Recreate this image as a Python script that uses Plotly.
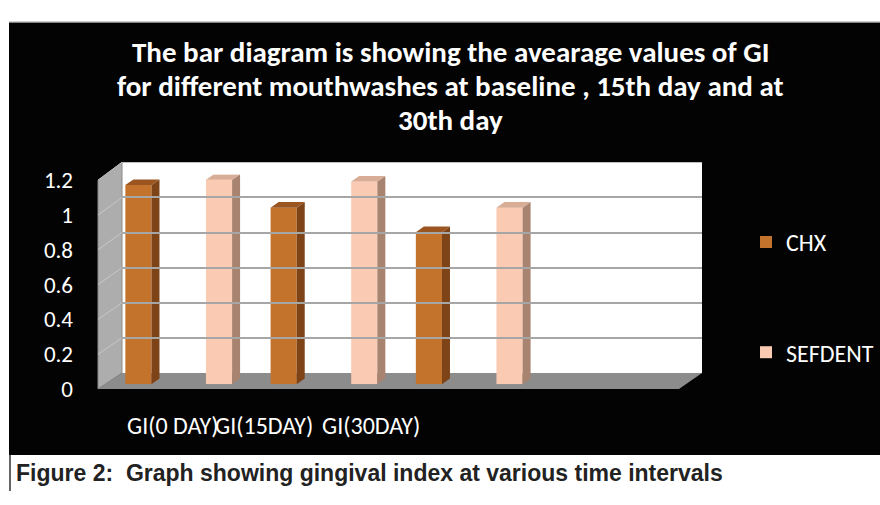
import plotly.graph_objects as go

# ---------------- data ----------------
categories = ["GI(0 DAY)", "GI(15DAY)", "GI(30DAY)"]
chx_values = [1.14, 1.01, 0.87]
sefdent_values = [1.17, 1.16, 1.01]
series_names = ["CHX", "SEFDENT"]
y_ticks = [0, 0.2, 0.4, 0.6, 0.8, 1, 1.2]
y_tick_labels = ["0", "0.2", "0.4", "0.6", "0.8", "1", "1.2"]
title_lines = [
    "The bar diagram is showing the avearage values of GI",
    "for different mouthwashes at baseline , 15th day and at",
    "30th day",
]
caption = "Figure 2:  Graph showing gingival index at various time intervals"

# ---------------- geometry / style ----------------
W, H = 880, 505
def X(px): return px / W
def Y(py): return 1 - py / H

FONT = "Carlito, Lato, sans-serif"
col_front = ["#C3732C", "#FACBB2"]
col_side = ["#7E4418", "#A8836F"]
col_top = ["#9A5520", "#D8AC95"]

back = dict(x0=122, x1=702, y0=380, y1=157)     # back wall: value 0 at y0, 1.2 at y1
front = dict(x0=98, x1=679, y0=397, y1=176)     # front edge
barp = dict(x0=105, x1=686, y0=392, y1=170)     # plane in which bars stand
XMIN, XMAX = -0.5, 3.5
YMAX = 1.2
slot_px = (barp["x1"] - barp["x0"]) / (XMAX - XMIN)
unit_px = (barp["y0"] - barp["y1"]) / YMAX
dx = 8 / slot_px
dy = 6 / unit_px
bar_w = 0.18
offsets = [-0.27, 0.285]

fig = go.Figure()

for s, (name, vals) in enumerate(zip(series_names, [chx_values, sefdent_values])):
    xs = [i + offsets[s] for i in range(len(categories))]
    fig.add_trace(go.Bar(
        x=xs, y=vals, width=bar_w, name=name, legendgroup=name,
        marker=dict(color=col_front[s], line=dict(width=0)),
        xaxis="x", yaxis="y", hoverinfo="skip",
    ))
    for xc, v in zip(xs, vals):
        x0, x1 = xc - bar_w / 2, xc + bar_w / 2
        fig.add_trace(go.Scatter(
            x=[x1, x1, x1 + dx, x1 + dx, x1], y=[0, v, v + dy, dy, 0],
            fill="toself", fillcolor=col_side[s], line=dict(width=0),
            mode="lines", showlegend=False, legendgroup=name,
            xaxis="x", yaxis="y", hoverinfo="skip",
        ))
        fig.add_trace(go.Scatter(
            x=[x0, x0 + dx, x1 + dx, x1, x0], y=[v, v + dy, v + dy, v, v],
            fill="toself", fillcolor=col_top[s], line=dict(width=0),
            mode="lines", showlegend=False, legendgroup=name,
            xaxis="x", yaxis="y", hoverinfo="skip",
        ))

fig.add_trace(go.Scatter(x=[0], y=[0], mode="markers", marker=dict(opacity=0),
                         showlegend=False, xaxis="x2", yaxis="y2", hoverinfo="skip"))
fig.add_trace(go.Scatter(x=[0], y=[0], mode="markers", marker=dict(opacity=0),
                         showlegend=False, xaxis="x3", yaxis="y3", hoverinfo="skip"))

shapes = []
shapes.append(dict(type="rect", xref="paper", yref="paper", x0=X(9), x1=X(880), y0=Y(467), y1=Y(9),
                   fillcolor="#030303", line=dict(width=0), layer="below"))
shapes.append(dict(type="rect", xref="paper", yref="paper", x0=X(back["x0"]), x1=X(back["x1"]),
                   y0=Y(back["y0"]), y1=Y(back["y1"]), fillcolor="white", line=dict(width=0), layer="below"))
shapes.append(dict(type="path", xref="paper", yref="paper", layer="below",
                   path=f"M{X(front['x0'])},{Y(front['y0'])} L{X(front['x0'])},{Y(front['y1'])} "
                        f"L{X(back['x0'])},{Y(back['y1'])} L{X(back['x0'])},{Y(back['y0'])} Z",
                   fillcolor="#ADADAD", line=dict(color="#8a8a8a", width=1)))
shapes.append(dict(type="path", xref="paper", yref="paper", layer="below",
                   path=f"M{X(front['x0'])},{Y(front['y0'])} L{X(back['x0'])},{Y(back['y0'])} "
                        f"L{X(back['x1'])},{Y(back['y0'])} L{X(front['x1'])},{Y(front['y0'])} Z",
                   fillcolor="#8C8C8C", line=dict(width=0)))
for t in y_ticks[1:]:
    fy = front["y0"] - (front["y0"] - front["y1"]) * t / YMAX
    by = back["y0"] - (back["y0"] - back["y1"]) * t / YMAX
    shapes.append(dict(type="line", xref="paper", yref="paper", layer="below",
                       x0=X(front["x0"]), y0=Y(fy), x1=X(back["x0"]), y1=Y(by),
                       line=dict(color="#c8c8c8", width=1)))
shapes.append(dict(type="line", xref="paper", yref="paper", x0=X(10), x1=X(10), y0=0, y1=Y(467),
                   line=dict(color="#333", width=1.5)))
shapes.append(dict(type="line", xref="paper", yref="paper", x0=X(9), x1=1, y0=Y(8), y1=Y(8),
                   line=dict(color="#cfcfcf", width=1)))

annotations = []
title_y = [40, 76, 112]
for line, ty in zip(title_lines, title_y):
    annotations.append(dict(text=line, x=X(450), y=Y(ty), xref="paper", yref="paper",
                            showarrow=False, xanchor="center", yanchor="middle",
                            font=dict(family=FONT, size=29, color="white", weight="bold")))
label_x = [125, 213, 320]
for lab, lx in zip(categories, label_x):
    annotations.append(dict(text=lab, x=X(lx), y=Y(436), xref="paper", yref="paper",
                            showarrow=False, xanchor="left", yanchor="middle",
                            font=dict(family=FONT, size=24, color="white")))
annotations.append(dict(text=caption, x=X(14), y=Y(486), xref="paper", yref="paper",
                        showarrow=False, xanchor="left", yanchor="middle",
                        font=dict(family="Liberation Sans, Arial, sans-serif", size=23,
                                  color="#222222", weight="bold")))

fig.update_layout(
    width=W, height=H,
    margin=dict(l=0, r=0, t=0, b=0),
    paper_bgcolor="white",
    plot_bgcolor="rgba(0,0,0,0)",
    barmode="overlay",
    shapes=shapes,
    annotations=annotations,
    showlegend=True,
    legend=dict(x=X(746), y=Y(218), xanchor="left", yanchor="top",
                bgcolor="rgba(0,0,0,0)", font=dict(family=FONT, size=24, color="white"),
                tracegroupgap=76, traceorder="grouped"),
    xaxis=dict(domain=[X(barp["x0"]), X(barp["x1"])], range=[XMIN, XMAX], visible=False,
               fixedrange=True),
    yaxis=dict(domain=[Y(barp["y0"]), Y(barp["y1"])], range=[0, YMAX], visible=False,
               fixedrange=True),
    xaxis2=dict(domain=[X(back["x0"]), X(back["x1"])], range=[0, 1], visible=False,
                anchor="y2"),
    yaxis2=dict(domain=[Y(back["y0"]), Y(back["y1"])], range=[0, YMAX], anchor="x2",
                tickvals=y_ticks, showticklabels=False, showgrid=True,
                gridcolor="#A6A6A6", gridwidth=1.5, zeroline=False, showline=False, ticks=""),
    xaxis3=dict(domain=[X(front["x0"]), X(front["x1"])], range=[0, 1], visible=False,
                anchor="y3"),
    yaxis3=dict(domain=[Y(front["y0"]), Y(front["y1"])], range=[0, YMAX], anchor="x3",
                tickvals=y_ticks, ticktext=y_tick_labels, showgrid=False, zeroline=False,
                showline=False, ticks="", ticklabelstandoff=24,
                tickfont=dict(family=FONT, size=23, color="white")),
)

fig.write_html("out.html", config={"displayModeBar": False},
               post_script="document.body.style.margin='0';document.body.style.overflow='hidden';")
